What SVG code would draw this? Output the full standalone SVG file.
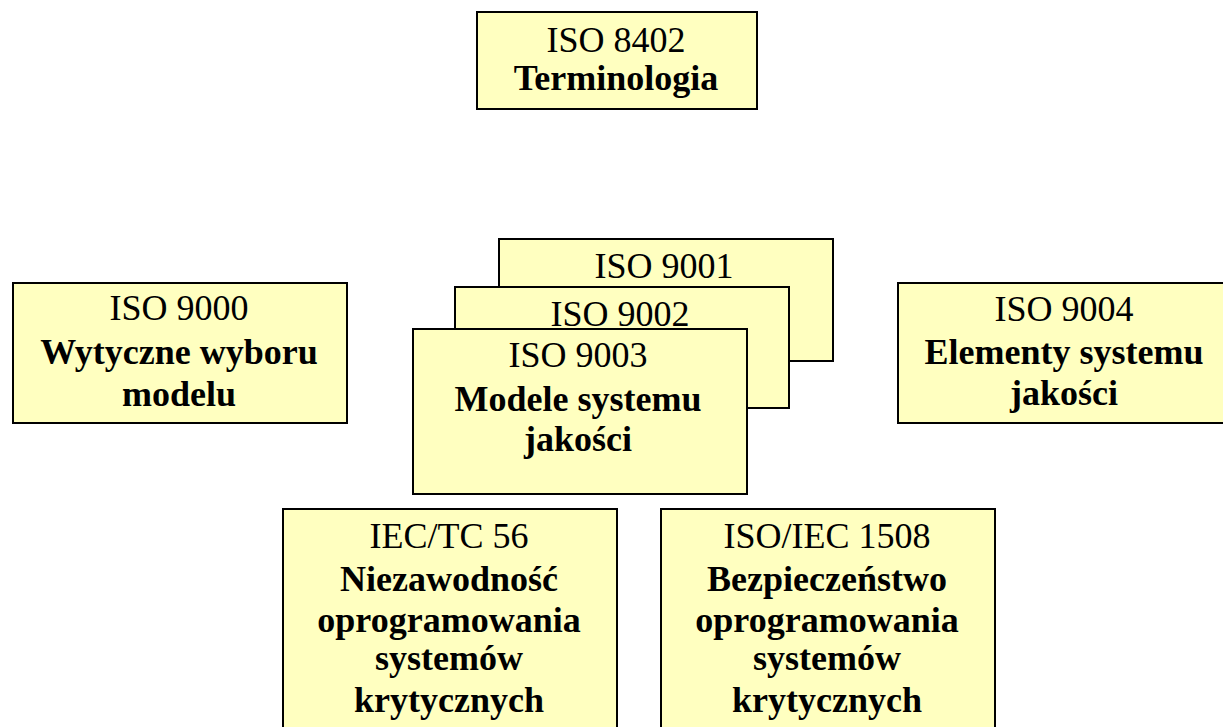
<svg xmlns="http://www.w3.org/2000/svg" width="1223" height="727" viewBox="0 0 1223 727">
<style>
.box{fill:#FFFFC0;stroke:#000;stroke-width:2}
.t{font-family:"Liberation Serif","Times New Roman",serif;font-size:36px;fill:#000;text-anchor:middle}
.b{font-weight:bold}
</style>
<rect width="1223" height="727" fill="#fff"/>
<g id="iso8402">
<rect class="box" x="477" y="12" width="280" height="97"/>
<text class="t" x="616" y="52">ISO 8402</text>
<text class="t b" x="616" y="90">Terminologia</text>
</g>
<g id="iso9000">
<rect class="box" x="13" y="283" width="334" height="140"/>
<text class="t" x="179" y="320">ISO 9000</text>
<text class="t b" x="179" y="364">Wytyczne wyboru</text>
<text class="t b" x="179" y="406">modelu</text>
</g>
<g id="iso9001">
<rect class="box" x="499" y="239" width="334" height="122"/>
<text class="t" x="664" y="278">ISO 9001</text>
</g>
<g id="iso9002">
<rect class="box" x="455" y="287" width="334" height="121"/>
<text class="t" x="620" y="326">ISO 9002</text>
</g>
<g id="iso9003">
<rect class="box" x="413" y="329" width="334" height="165"/>
<text class="t" x="578" y="367">ISO 9003</text>
<text class="t b" x="578" y="411">Modele systemu</text>
<text class="t b" x="578" y="451">jakości</text>
</g>
<g id="iso9004">
<rect class="box" x="898" y="283" width="334" height="140"/>
<text class="t" x="1064" y="321">ISO 9004</text>
<text class="t b" x="1064" y="364">Elementy systemu</text>
<text class="t b" x="1064" y="405">jakości</text>
</g>
<g id="iectc56">
<rect class="box" x="283" y="509" width="334" height="240"/>
<text class="t" x="449" y="548">IEC/TC 56</text>
<text class="t b" x="449" y="591">Niezawodność</text>
<text class="t b" x="449" y="632">oprogramowania</text>
<text class="t b" x="449" y="670">systemów</text>
<text class="t b" x="449" y="712">krytycznych</text>
</g>
<g id="isoiec1508">
<rect class="box" x="661" y="509" width="334" height="240"/>
<text class="t" x="827" y="548">ISO/IEC 1508</text>
<text class="t b" x="827" y="591">Bezpieczeństwo</text>
<text class="t b" x="827" y="632">oprogramowania</text>
<text class="t b" x="827" y="670">systemów</text>
<text class="t b" x="827" y="712">krytycznych</text>
</g>
<g id="connectors"/>
</svg>
